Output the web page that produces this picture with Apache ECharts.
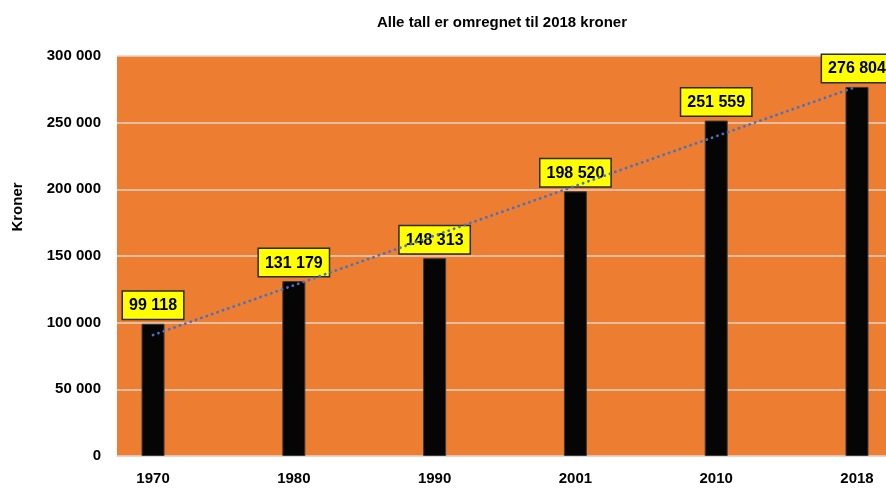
<!DOCTYPE html>
<html>
<head>
<meta charset="utf-8">
<script src="https://cdn.jsdelivr.net/npm/echarts@6/dist/echarts.min.js"></script>
<style>
  html, body { margin: 0; padding: 0; background: #fff; }
  #main { width: 886px; height: 488px; }
</style>
</head>
<body>
<div id="main"></div>
<script>
// data
var years = ['1970', '1980', '1990', '2001', '2010', '2018'];
var kroner = [99118, 131179, 148313, 198520, 251559, 276804];
// dotted trend line, start and end
var trendX = [0, 5];
var trendY = [90750, 277100];
var yTicks = [0, 50000, 100000, 150000, 200000, 250000, 300000];

function fmt(v) {
    return String(v).replace(/\B(?=(\d{3})+(?!\d))/g, ' ');
}

var font = '"Liberation Sans", Arial, sans-serif';
var myChart = echarts.init(document.getElementById('main'));

var barData = [];
for (let i = 0; i < kroner.length; i++) {
    barData.push([i, kroner[i]]);
}
var trendData = [];
for (let i = 0; i < trendX.length; i++) {
    trendData.push([trendX[i], trendY[i]]);
}

let option = {
    animation: false,
    title: {
        text: 'Alle tall er omregnet til 2018 kroner',
        left: 497,
        textAlign: 'center',
        top: 10,
        textStyle: {
            fontFamily: font,
            fontSize: 15,
            fontWeight: 'bold',
            color: '#000'
        }
    },
    graphic: [
        {
            type: 'text',
            x: 18,
            y: 207,
            rotation: Math.PI / 2,
            style: {
                text: 'Kroner',
                font: 'bold 15px ' + font,
                fill: '#000',
                align: 'center',
                verticalAlign: 'middle'
            }
        }
    ],
    grid: {
        left: 117,
        right: 0,
        top: 56,
        bottom: 32,
        show: true,
        backgroundColor: '#ED7D31',
        borderWidth: 0
    },
    xAxis: {
        type: 'value',
        min: -0.256,
        max: 5.206,
        axisLine: { show: true, lineStyle: { color: '#d9d9d9', width: 1 } },
        axisTick: { show: false },
        splitLine: { show: false },
        axisLabel: {
            customValues: [0, 1, 2, 3, 4, 5],
            formatter: function (v) { return years[Math.round(v)]; },
            margin: 15,
            fontFamily: font,
            fontSize: 15,
            fontWeight: 'bold',
            color: '#000'
        }
    },
    yAxis: {
        type: 'value',
        min: 0,
        max: 300000,
        interval: 50000,
        axisLine: { show: false },
        axisTick: { show: false },
        splitLine: { lineStyle: { color: '#e6d3c6', width: 1.5 } },
        axisLabel: {
            formatter: function (v) { return fmt(v); },
            margin: 16,
            fontFamily: font,
            fontSize: 15,
            fontWeight: 'bold',
            color: '#000'
        }
    },
    series: [
        {
            type: 'bar',
            data: barData,
            barWidth: 23,
            z: 2,
            itemStyle: {
                color: '#050505',
                borderColor: '#3a3a3a',
                borderWidth: 1
            },
            label: {
                show: true,
                position: 'top',
                distance: 5,
                formatter: function (p) { return fmt(p.value[1]); },
                backgroundColor: '#FFFF00',
                borderColor: '#2b2b2b',
                borderWidth: 1.5,
                padding: [6, 6, 5, 6],
                fontFamily: font,
                fontSize: 16,
                fontWeight: 'bold',
                color: '#000'
            }
        },
        {
            type: 'line',
            data: trendData,
            z: 5,
            showSymbol: false,
            symbol: 'none',
            lineStyle: {
                type: [0.1, 5.6],
                cap: 'round',
                color: '#4472C4',
                width: 2.8
            }
        }
    ]
};
myChart.setOption(option);
</script>
</body>
</html>
